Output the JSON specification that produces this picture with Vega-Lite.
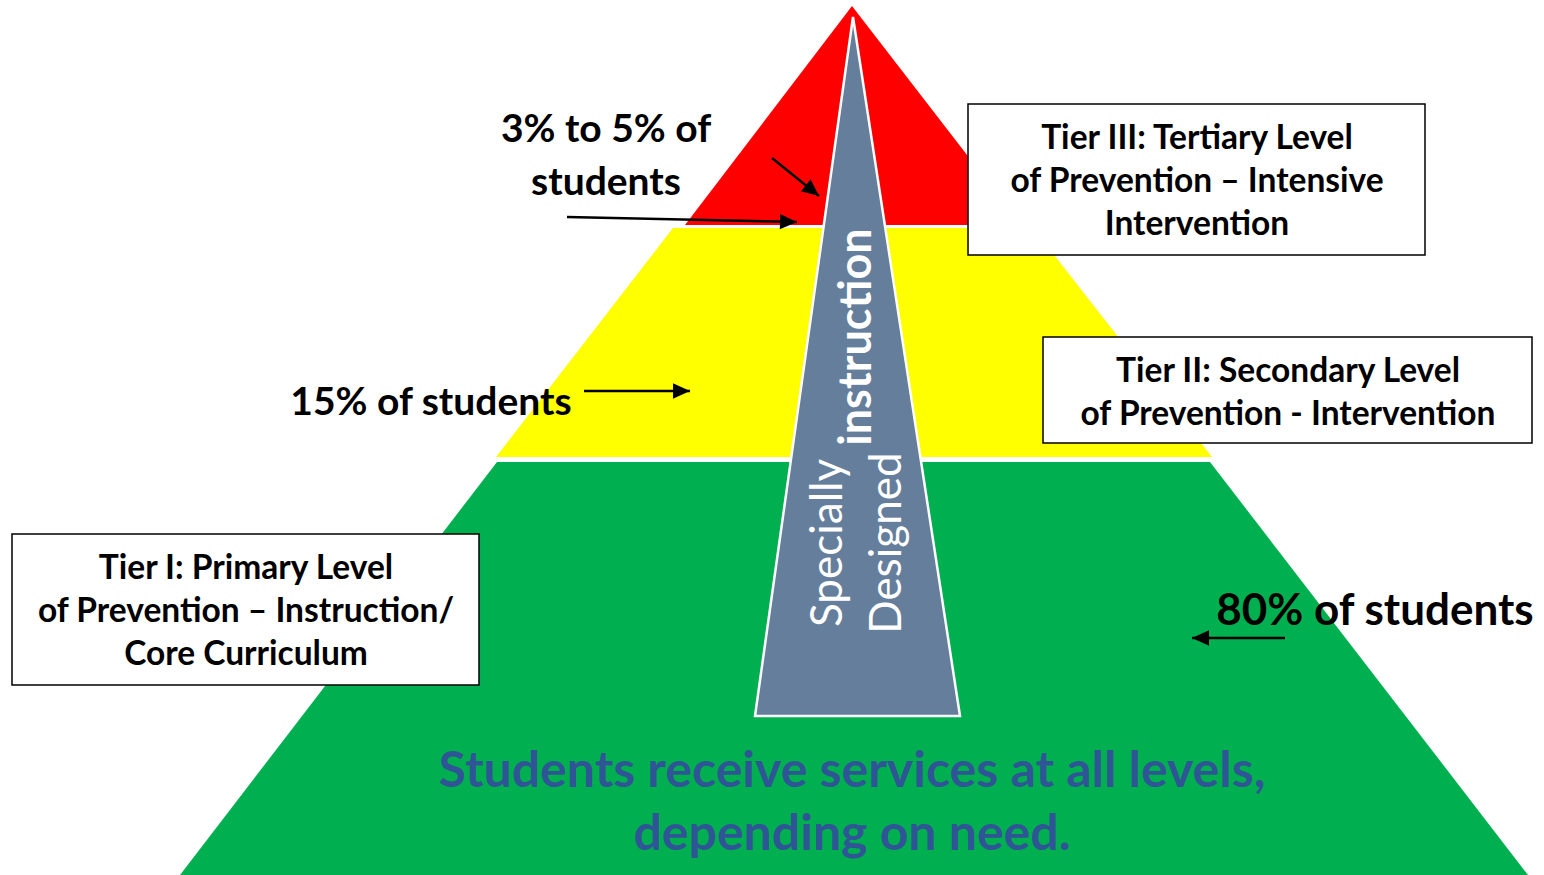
{
  "$schema": "https://vega.github.io/schema/vega-lite/v6.json",
  "width": 1544,
  "height": 875,
  "autosize": {"type": "fit", "contains": "padding"},
  "padding": 0,
  "background": "white",
  "config": {"view": {"stroke": null}, "axis": {"disable": true}},
  "datasets": {
    "tiers": [
      {"tier": "Tier III", "y": 6, "xl": 852, "xr": 852},
      {"tier": "Tier III", "y": 225, "xl": 685, "xr": 1021},
      {"tier": "Tier II", "y": 228, "xl": 673, "xr": 1033},
      {"tier": "Tier II", "y": 457, "xl": 496, "xr": 1212},
      {"tier": "Tier I", "y": 462, "xl": 497, "xr": 1210},
      {"tier": "Tier I", "y": 875, "xl": 180, "xr": 1528}
    ],
    "sdi": [
      {"y": 17, "xl": 853, "xr": 853},
      {"y": 716, "xl": 755, "xr": 960}
    ],
    "arrows": [
      {"id": "a1", "x": 772, "y": 158, "tx": 819, "ty": 196, "heading": 39},
      {"id": "a2", "x": 567, "y": 217, "tx": 797, "ty": 222, "heading": 1.3},
      {"id": "a3", "x": 584, "y": 391, "tx": 690, "ty": 391, "heading": 0},
      {"id": "a4", "x": 1285, "y": 638, "tx": 1192, "ty": 638, "heading": 180}
    ],
    "labels": [
      {"text": "3% to 5% of", "x": 606, "y": 130, "group": "small"},
      {"text": "students", "x": 606, "y": 183, "group": "small"},
      {"text": "15% of students", "x": 431, "y": 403, "group": "small"},
      {"text": "80% of students", "x": 1375, "y": 612, "group": "large"}
    ],
    "boxes": [
      {"tier": "Tier III", "x": 968, "x2": 1425, "y": 104, "y2": 255},
      {"tier": "Tier II", "x": 1043, "x2": 1532, "y": 337, "y2": 443},
      {"tier": "Tier I", "x": 12, "x2": 479, "y": 534, "y2": 685}
    ],
    "boxtext": [
      {"text": "Tier III: Tertiary Level", "x": 1197, "y": 139},
      {"text": "of Prevention \u2013 Intensive", "x": 1197, "y": 182},
      {"text": "Intervention", "x": 1197, "y": 225},
      {"text": "Tier II: Secondary Level", "x": 1288, "y": 372},
      {"text": "of Prevention - Intervention", "x": 1288, "y": 415},
      {"text": "Tier I: Primary Level", "x": 246, "y": 569},
      {"text": "of Prevention \u2013 Instruction/", "x": 246, "y": 612},
      {"text": "Core Curriculum", "x": 246, "y": 655}
    ],
    "bottom": [
      {"text": "Students receive services at all levels,", "x": 852, "y": 772},
      {"text": "depending on need.", "x": 852, "y": 835}
    ],
    "vertical": [
      {"text": "Specially", "x": 829, "y": 543, "weight": "normal"},
      {"text": "Designed", "x": 888, "y": 543, "weight": "normal"},
      {"text": "instruction", "x": 857, "y": 337, "weight": "bold"}
    ]
  },
  "layer": [
    {
      "data": {"name": "tiers"},
      "mark": {"type": "area", "orient": "horizontal"},
      "encoding": {
        "y": {"field": "y", "type": "quantitative", "scale": {"domain": [0, 875], "reverse": true, "nice": false, "zero": false}},
        "x": {"field": "xl", "type": "quantitative", "scale": {"domain": [0, 1544], "nice": false, "zero": false}},
        "x2": {"field": "xr"},
        "color": {"field": "tier", "type": "nominal", "scale": {"domain": ["Tier III", "Tier II", "Tier I"], "range": ["#FF0000", "#FFFF00", "#00B050"]}, "legend": null}
      }
    },
    {
      "data": {"name": "sdi"},
      "mark": {"type": "area", "orient": "horizontal", "fill": "#657E9C", "stroke": "white", "strokeWidth": 2.5},
      "encoding": {
        "y": {"field": "y", "type": "quantitative", "scale": {"domain": [0, 875], "reverse": true, "nice": false, "zero": false}},
        "x": {"field": "xl", "type": "quantitative", "scale": {"domain": [0, 1544], "nice": false, "zero": false}},
        "x2": {"field": "xr"}
      }
    },
    {
      "data": {"name": "vertical"},
      "transform": [{"filter": "datum.weight === 'normal'"}],
      "mark": {"type": "text", "angle": 270, "font": "Lato", "fontSize": 44, "fontWeight": "normal", "color": "white", "align": "center", "baseline": "middle"},
      "encoding": {
        "x": {"field": "x", "type": "quantitative", "scale": {"domain": [0, 1544], "nice": false, "zero": false}},
        "y": {"field": "y", "type": "quantitative", "scale": {"domain": [0, 875], "reverse": true, "nice": false, "zero": false}},
        "text": {"field": "text"}
      }
    },
    {
      "data": {"name": "vertical"},
      "transform": [{"filter": "datum.weight === 'bold'"}],
      "mark": {"type": "text", "angle": 270, "font": "Lato", "fontSize": 45, "fontWeight": "bold", "color": "white", "align": "center", "baseline": "middle"},
      "encoding": {
        "x": {"field": "x", "type": "quantitative", "scale": {"domain": [0, 1544], "nice": false, "zero": false}},
        "y": {"field": "y", "type": "quantitative", "scale": {"domain": [0, 875], "reverse": true, "nice": false, "zero": false}},
        "text": {"field": "text"}
      }
    },
    {
      "data": {"name": "labels"},
      "transform": [{"filter": "datum.group === 'small'"}],
      "mark": {"type": "text", "font": "Lato", "fontSize": 39, "fontWeight": "bold", "color": "black", "align": "center", "baseline": "middle"},
      "encoding": {
        "x": {"field": "x", "type": "quantitative", "scale": {"domain": [0, 1544], "nice": false, "zero": false}},
        "y": {"field": "y", "type": "quantitative", "scale": {"domain": [0, 875], "reverse": true, "nice": false, "zero": false}},
        "text": {"field": "text"}
      }
    },
    {
      "data": {"name": "labels"},
      "transform": [{"filter": "datum.group === 'large'"}],
      "mark": {"type": "text", "font": "Lato", "fontSize": 44, "fontWeight": "bold", "color": "black", "align": "center", "baseline": "middle"},
      "encoding": {
        "x": {"field": "x", "type": "quantitative", "scale": {"domain": [0, 1544], "nice": false, "zero": false}},
        "y": {"field": "y", "type": "quantitative", "scale": {"domain": [0, 875], "reverse": true, "nice": false, "zero": false}},
        "text": {"field": "text"}
      }
    },
    {
      "data": {"name": "arrows"},
      "mark": {"type": "rule", "color": "black", "strokeWidth": 2.5},
      "encoding": {
        "x": {"field": "x", "type": "quantitative", "scale": {"domain": [0, 1544], "nice": false, "zero": false}},
        "y": {"field": "y", "type": "quantitative", "scale": {"domain": [0, 875], "reverse": true, "nice": false, "zero": false}},
        "x2": {"field": "tx"},
        "y2": {"field": "ty"}
      }
    },
    {
      "data": {"name": "arrows"},
      "mark": {"type": "point", "shape": "M0,0 L-2,-0.9 L-2,0.9 Z", "filled": true, "color": "black", "size": 290, "opacity": 1},
      "encoding": {
        "x": {"field": "tx", "type": "quantitative", "scale": {"domain": [0, 1544], "nice": false, "zero": false}},
        "y": {"field": "ty", "type": "quantitative", "scale": {"domain": [0, 875], "reverse": true, "nice": false, "zero": false}},
        "angle": {"field": "heading", "type": "quantitative", "scale": null}
      }
    },
    {
      "data": {"name": "boxes"},
      "mark": {"type": "rect", "fill": "white", "stroke": "black", "strokeWidth": 1.5},
      "encoding": {
        "x": {"field": "x", "type": "quantitative", "scale": {"domain": [0, 1544], "nice": false, "zero": false}},
        "x2": {"field": "x2"},
        "y": {"field": "y", "type": "quantitative", "scale": {"domain": [0, 875], "reverse": true, "nice": false, "zero": false}},
        "y2": {"field": "y2"}
      }
    },
    {
      "data": {"name": "boxtext"},
      "mark": {"type": "text", "font": "Lato", "fontSize": 33.5, "fontWeight": "bold", "color": "black", "align": "center", "baseline": "middle"},
      "encoding": {
        "x": {"field": "x", "type": "quantitative", "scale": {"domain": [0, 1544], "nice": false, "zero": false}},
        "y": {"field": "y", "type": "quantitative", "scale": {"domain": [0, 875], "reverse": true, "nice": false, "zero": false}},
        "text": {"field": "text"}
      }
    },
    {
      "data": {"name": "bottom"},
      "mark": {"type": "text", "font": "Lato", "fontSize": 50, "fontWeight": "bold", "color": "#2F5597", "align": "center", "baseline": "middle"},
      "encoding": {
        "x": {"field": "x", "type": "quantitative", "scale": {"domain": [0, 1544], "nice": false, "zero": false}},
        "y": {"field": "y", "type": "quantitative", "scale": {"domain": [0, 875], "reverse": true, "nice": false, "zero": false}},
        "text": {"field": "text"}
      }
    }
  ]
}
